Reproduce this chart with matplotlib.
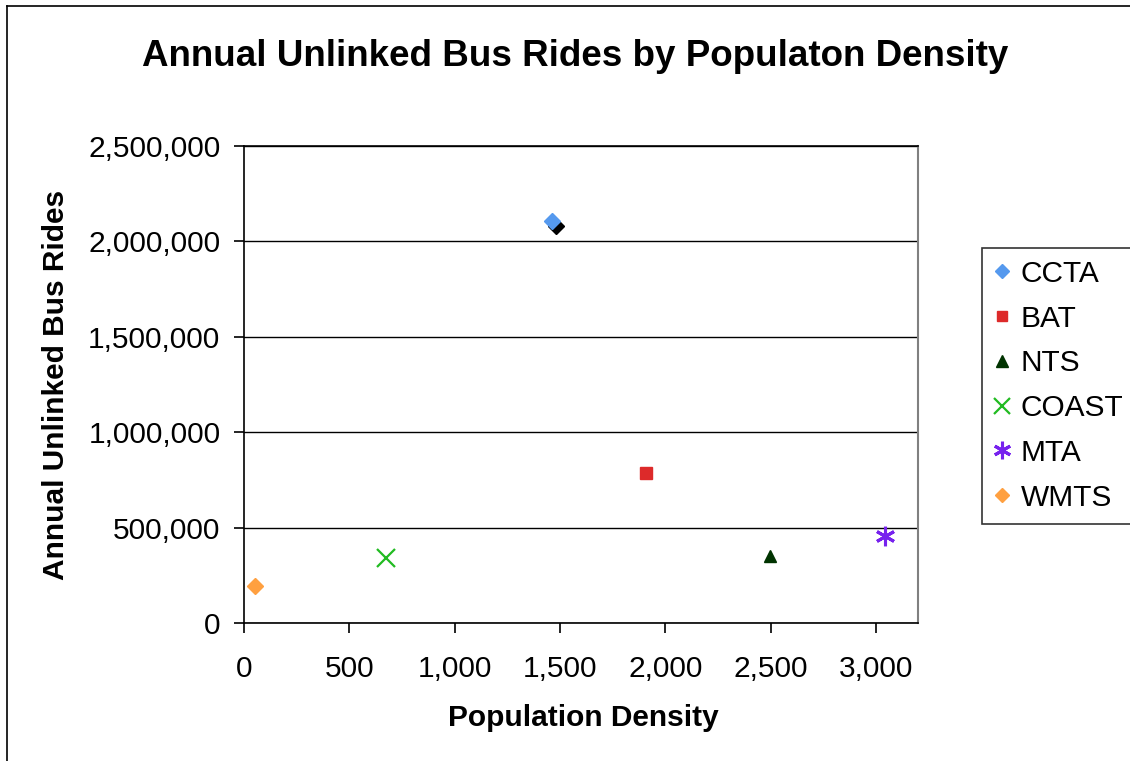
import matplotlib
matplotlib.use("Agg")
import matplotlib.pyplot as plt
import matplotlib.transforms as mtransforms
from matplotlib.ticker import FuncFormatter, MultipleLocator
from matplotlib.lines import Line2D

plt.rcParams['font.family'] = ['Liberation Sans', 'DejaVu Sans']

# Transit agencies: population density vs annual unlinked bus rides
agencies = ["CCTA", "BAT", "NTS", "COAST", "MTA", "WMTS"]
density = [1460, 1910, 2495, 673, 3043, 52]
rides = [2105000, 786000, 351000, 340000, 456000, 194000]

colors = ["#5599ee", "#dd2a2a", "#003300", "#22bb22", "#7722ee", "#ffa040"]
markers = ["D", "s", "^", "x", "*", "D"]
sizes = [8, 8, 9, 13, 14, 8]

fig = plt.figure(figsize=(11.30, 7.61), dpi=100)
ax = fig.add_axes([244 / 1130, 1 - 623 / 761, (918 - 244) / 1130, (623 - 146) / 761])

# outer chart frame (top and left edges visible)
fig.add_artist(Line2D([7 / 1130, 7 / 1130], [0, 1 - 6 / 761], transform=fig.transFigure,
                      color="black", lw=1.2))
fig.add_artist(Line2D([7 / 1130, 1.0], [1 - 6 / 761, 1 - 6 / 761], transform=fig.transFigure,
                      color="black", lw=1.2))

handles = []
for i, name in enumerate(agencies):
    if name == "CCTA":
        # drop shadow behind the CCTA point
        shadow = mtransforms.offset_copy(ax.transData, fig=fig, x=3, y=-3.5, units="points")
        ax.plot([density[i]], [rides[i]], linestyle="none", marker="D", markersize=sizes[i],
                color="black", transform=shadow, zorder=3, clip_on=False)
    if markers[i] == "x":
        h, = ax.plot([density[i]], [rides[i]], linestyle="none", marker="x", markersize=sizes[i],
                     color=colors[i], markeredgewidth=1.6, zorder=4, label=name)
    elif markers[i] == "*":
        h, = ax.plot([density[i]], [rides[i]], linestyle="none", marker=(6, 2, 0),
                     markersize=sizes[i], color=colors[i], markeredgewidth=2.2, zorder=4,
                     label=name, clip_on=False)
    else:
        h, = ax.plot([density[i]], [rides[i]], linestyle="none", marker=markers[i],
                     markersize=sizes[i], color=colors[i], markeredgecolor=colors[i],
                     zorder=4, label=name)
    handles.append(h)

ax.set_xlim(0, 3200)
ax.set_ylim(0, 2500000)
ax.xaxis.set_major_locator(MultipleLocator(500))
ax.yaxis.set_major_locator(MultipleLocator(500000))
fmt = FuncFormatter(lambda v, p: f"{int(round(v)):,}")
ax.xaxis.set_major_formatter(fmt)
ax.yaxis.set_major_formatter(fmt)

ax.grid(axis="y", color="black", lw=1.0)
ax.set_axisbelow(True)
ax.spines["right"].set_color("#808080")
ax.spines["right"].set_linewidth(1.5)
for s in ["left", "bottom", "top"]:
    ax.spines[s].set_color("black")
    ax.spines[s].set_linewidth(1.2)

ax.tick_params(axis="both", direction="out", length=7, width=1.2, labelsize=21.5, color="black")
ax.tick_params(axis="x", pad=16)
ax.tick_params(axis="y", pad=10)

fig.text(575 / 1130, 1 - 57 / 761, "Annual Unlinked Bus Rides by Populaton Density",
         ha="center", va="center", fontsize=26.5, fontweight="bold")
fig.text(583 / 1130, 1 - 718 / 761, "Population Density", ha="center", va="center",
         fontsize=21.5, fontweight="bold")
fig.text(56 / 1130, 1 - 385 / 761, "Annual Unlinked Bus Rides", ha="center", va="center",
         fontsize=21.5, fontweight="bold", rotation=90)

leg = fig.legend(handles=handles, loc="upper left",
                 bbox_to_anchor=(982 / 1130, 1 - 248 / 761), frameon=True, fancybox=False,
                 fontsize=21.5, handlelength=0.55, handletextpad=0.35, borderpad=0.4,
                 labelspacing=0.56, borderaxespad=0, markerscale=0.9)
leg.get_frame().set_edgecolor("black")
leg.get_frame().set_linewidth(1.2)

fig.savefig("out.png", dpi=100)
